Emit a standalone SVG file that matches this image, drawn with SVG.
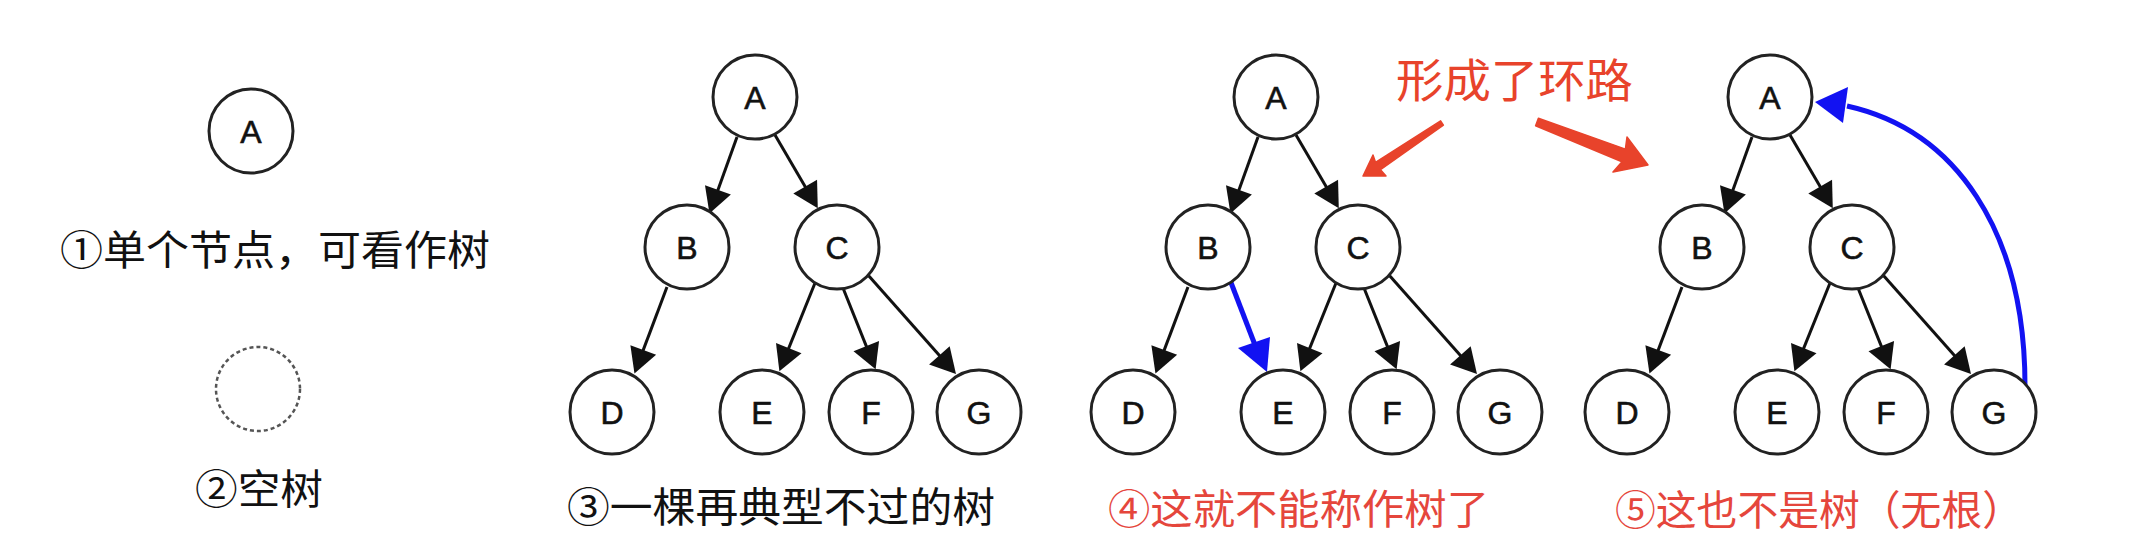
<svg xmlns="http://www.w3.org/2000/svg" width="2148" height="558" viewBox="0 0 2148 558">
<style>
.nd{fill:#fff;stroke:#222;stroke-width:3}
.empty{fill:#fff;stroke:#555;stroke-width:2.5;stroke-dasharray:4 3}
.lt{font-family:"Liberation Sans",Arial,sans-serif;font-size:32px;fill:#111;stroke:#111;stroke-width:0.6;text-anchor:middle}
.lbl{font-family:"Noto Sans CJK SC","Noto Sans",sans-serif;font-size:41px;fill:#111}
.red{fill:#E5463C}
.title{font-family:"Noto Sans CJK SC","Noto Sans",sans-serif;font-size:46px;fill:#E8432B}
.e{stroke:#111;stroke-width:3;fill:none;marker-end:url(#ah)}
.blue{stroke:#1212F2;stroke-width:5;fill:none}
.bh{fill:#1212F2}
.ra{fill:#E8432B;stroke:#E8432B;stroke-width:1.5;stroke-linejoin:round}
</style>
<defs>
<marker id="ah" markerUnits="userSpaceOnUse" markerWidth="30" markerHeight="30" viewBox="-16 -12 24 24" refX="0" refY="0" orient="auto">
<path d="M6,0 L-14,-11 L-14,11 Z" fill="#111"/>
</marker>
</defs>
<rect width="2148" height="558" fill="#fff"/>

<!-- Panel 1: single node -->
<g id="p1-A"><circle class="nd" cx="251" cy="131" r="42"/><text class="lt" x="251" y="142.5">A</text></g>
<g id="label1"><text class="lbl" x="60" y="265" textLength="430" lengthAdjust="spacingAndGlyphs">①单个节点，可看作树</text></g>

<!-- Panel 2: empty tree -->
<g id="p2-empty"><circle class="empty" cx="258" cy="389" r="42"/></g>
<g id="label2"><text class="lbl" x="195" y="504" textLength="128" lengthAdjust="spacingAndGlyphs">②空树</text></g>

<!-- Panel 3 -->
<g id="panel3">
<g id="p3-connectors">
<line class="e" x1="737" y1="137" x2="712.0" y2="206.4"/>
<line class="e" x1="775" y1="135" x2="814.0" y2="201.8"/>
<line class="e" x1="667" y1="287" x2="637.1" y2="366.4"/>
<line class="e" x1="815" y1="283" x2="782.2" y2="364.4"/>
<line class="e" x1="843" y1="288" x2="872.8" y2="362.4"/>
<line class="e" x1="868" y1="275" x2="951.0" y2="368.5"/>
</g>
<g id="p3-A"><circle class="nd" cx="755" cy="97" r="42"/><text class="lt" x="755" y="108.5">A</text></g>
<g id="p3-B"><circle class="nd" cx="687" cy="247" r="42"/><text class="lt" x="687" y="258.5">B</text></g>
<g id="p3-C"><circle class="nd" cx="837" cy="247" r="42"/><text class="lt" x="837" y="258.5">C</text></g>
<g id="p3-D"><circle class="nd" cx="612" cy="412" r="42"/><text class="lt" x="612" y="423.5">D</text></g>
<g id="p3-E"><circle class="nd" cx="762" cy="412" r="42"/><text class="lt" x="762" y="423.5">E</text></g>
<g id="p3-F"><circle class="nd" cx="871" cy="412" r="42"/><text class="lt" x="871" y="423.5">F</text></g>
<g id="p3-G"><circle class="nd" cx="979" cy="412" r="42"/><text class="lt" x="979" y="423.5">G</text></g>
</g>
<g id="label3"><text class="lbl" x="567" y="522" textLength="428" lengthAdjust="spacingAndGlyphs">③一棵再典型不过的树</text></g>

<!-- Panel 4 -->
<g id="panel4" transform="translate(521,0)">
<g id="p4-connectors">
<line class="e" x1="737" y1="137" x2="712.0" y2="206.4"/>
<line class="e" x1="775" y1="135" x2="814.0" y2="201.8"/>
<line class="e" x1="667" y1="287" x2="637.1" y2="366.4"/>
<line class="e" x1="815" y1="283" x2="782.2" y2="364.4"/>
<line class="e" x1="843" y1="288" x2="872.8" y2="362.4"/>
<line class="e" x1="868" y1="275" x2="951.0" y2="368.5"/>
<line class="blue" x1="709" y1="280" x2="734" y2="345"/>
<polygon class="bh" points="746,372 717,348 749,337"/>
</g>
<g id="p4-A"><circle class="nd" cx="755" cy="97" r="42"/><text class="lt" x="755" y="108.5">A</text></g>
<g id="p4-B"><circle class="nd" cx="687" cy="247" r="42"/><text class="lt" x="687" y="258.5">B</text></g>
<g id="p4-C"><circle class="nd" cx="837" cy="247" r="42"/><text class="lt" x="837" y="258.5">C</text></g>
<g id="p4-D"><circle class="nd" cx="612" cy="412" r="42"/><text class="lt" x="612" y="423.5">D</text></g>
<g id="p4-E"><circle class="nd" cx="762" cy="412" r="42"/><text class="lt" x="762" y="423.5">E</text></g>
<g id="p4-F"><circle class="nd" cx="871" cy="412" r="42"/><text class="lt" x="871" y="423.5">F</text></g>
<g id="p4-G"><circle class="nd" cx="979" cy="412" r="42"/><text class="lt" x="979" y="423.5">G</text></g>
</g>
<g id="label4"><text class="lbl red" x="1108" y="524" textLength="381" lengthAdjust="spacingAndGlyphs">④这就不能称作树了</text></g>

<!-- Panel 5 -->
<g id="panel5" transform="translate(1015,0)">
<g id="p5-connectors">
<line class="e" x1="737" y1="137" x2="712.0" y2="206.4"/>
<line class="e" x1="775" y1="135" x2="814.0" y2="201.8"/>
<line class="e" x1="667" y1="287" x2="637.1" y2="366.4"/>
<line class="e" x1="815" y1="283" x2="782.2" y2="364.4"/>
<line class="e" x1="843" y1="288" x2="872.8" y2="362.4"/>
<line class="e" x1="868" y1="275" x2="951.0" y2="368.5"/>
<path class="blue" d="M1010,386 C1010,230 940,130 832,106"/>
<polygon class="bh" points="800,102 833,87 828,123"/>
</g>
<g id="p5-A"><circle class="nd" cx="755" cy="97" r="42"/><text class="lt" x="755" y="108.5">A</text></g>
<g id="p5-B"><circle class="nd" cx="687" cy="247" r="42"/><text class="lt" x="687" y="258.5">B</text></g>
<g id="p5-C"><circle class="nd" cx="837" cy="247" r="42"/><text class="lt" x="837" y="258.5">C</text></g>
<g id="p5-D"><circle class="nd" cx="612" cy="412" r="42"/><text class="lt" x="612" y="423.5">D</text></g>
<g id="p5-E"><circle class="nd" cx="762" cy="412" r="42"/><text class="lt" x="762" y="423.5">E</text></g>
<g id="p5-F"><circle class="nd" cx="871" cy="412" r="42"/><text class="lt" x="871" y="423.5">F</text></g>
<g id="p5-G"><circle class="nd" cx="979" cy="412" r="42"/><text class="lt" x="979" y="423.5">G</text></g>
</g>
<g id="label5"><text class="lbl red" x="1615" y="525" textLength="408" lengthAdjust="spacingAndGlyphs">⑤这也不是树（无根）</text></g>

<!-- Annotation -->
<g id="annotation">
<text class="title" x="1396" y="97" textLength="237" lengthAdjust="spacingAndGlyphs">形成了环路</text>
<polygon class="ra" points="1440.6,120.9 1375.5,162.3 1373,155 1363,176 1386,176 1380.5,169.7 1443.4,125.1"/>
<polygon class="ra" points="1538.4,118.3 1625.4,149.1 1627,137 1648,165 1613,172 1622,161.7 1535.6,125.7"/>
</g>
</svg>
